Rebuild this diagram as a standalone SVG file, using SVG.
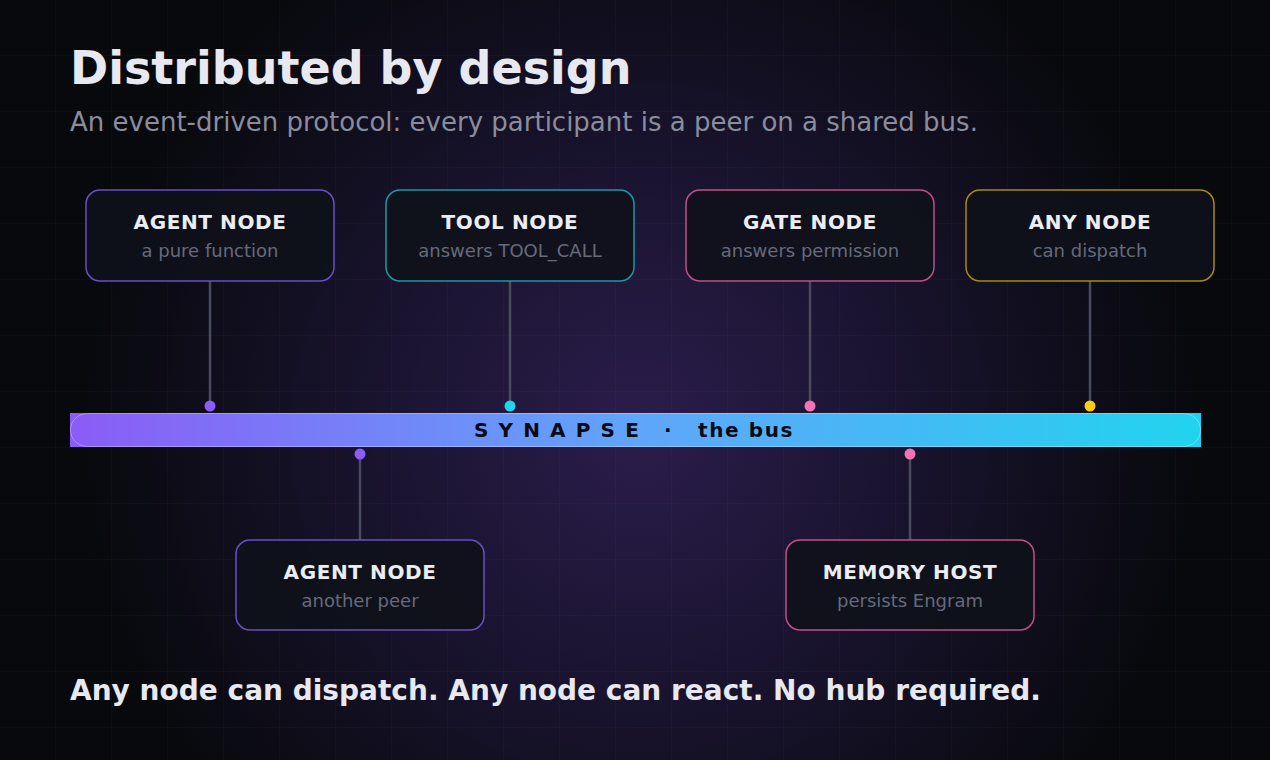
<svg xmlns="http://www.w3.org/2000/svg" width="1270" height="760" viewBox="0 0 1270 760">
  <defs>
    <radialGradient id="glow" cx="640" cy="430" r="560" gradientUnits="userSpaceOnUse">
      <stop offset="0" stop-color="#2b1d4c"/>
      <stop offset="0.45" stop-color="#1a1430"/>
      <stop offset="1" stop-color="#08090d"/>
    </radialGradient>
    <linearGradient id="busGrad" x1="70" y1="0" x2="1201" y2="0" gradientUnits="userSpaceOnUse">
      <stop offset="0" stop-color="#8b5cf6"/>
      <stop offset="0.5" stop-color="#60a5fa"/>
      <stop offset="1" stop-color="#22d3ee"/>
    </linearGradient>
    <pattern id="grid" width="56" height="56" patternUnits="userSpaceOnUse">
      <path d="M56 0 V56 M0 56 H56" fill="none" stroke="#ffffff" stroke-opacity="0.035" stroke-width="1"/>
    </pattern>
    <style>
      .title { font-family: "DejaVu Sans", sans-serif; font-weight: bold; font-size: 46px; fill: #e8e8f0; }
      .subtitle { font-family: "DejaVu Sans", sans-serif; font-size: 26px; fill: #8a8d9e; }
      .footer { font-family: "DejaVu Sans", sans-serif; font-weight: bold; font-size: 28px; fill: #e8e8f0; }
      .box { fill: #0f111a; fill-opacity: 0.92; stroke-width: 1.5; }
      .nlabel { font-family: "DejaVu Sans", sans-serif; font-weight: bold; font-size: 20px; fill: #ececf3; text-anchor: middle; letter-spacing: 0.6px; }
      .nsub { font-family: "DejaVu Sans", sans-serif; font-size: 18px; fill: #666a7b; text-anchor: middle; }
      .stem { stroke: #4a4b5e; stroke-width: 2.5; }
      .purple { stroke: #6a4fc4; }
      .cyan { stroke: #1a98a8; }
      .pink { stroke: #c24d88; }
      .yellow { stroke: #a8890f; }
      .bustext { font-family: "DejaVu Sans", sans-serif; font-weight: bold; font-size: 20px; fill: #0b0b16; letter-spacing: 1.6px; }
    </style>
  </defs>

  <rect width="1270" height="760" fill="url(#glow)"/>
  <rect width="1270" height="760" fill="url(#grid)"/>

  <text class="title" x="70" y="84">Distributed by design</text>
  <text class="subtitle" x="70" y="131">An event-driven protocol: every participant is a peer on a shared bus.</text>

  <g id="connectors">
    <line class="stem" x1="210" y1="281" x2="210" y2="406"/>
    <line class="stem" x1="510" y1="281" x2="510" y2="406"/>
    <line class="stem" x1="810" y1="281" x2="810" y2="406"/>
    <line class="stem" x1="1090" y1="281" x2="1090" y2="406"/>
    <line class="stem" x1="360" y1="454" x2="360" y2="540"/>
    <line class="stem" x1="910" y1="454" x2="910" y2="540"/>
    <circle cx="210" cy="406" r="5.5" fill="#8b5cf6"/>
    <circle cx="510" cy="406" r="5.5" fill="#22d3ee"/>
    <circle cx="810" cy="406" r="5.5" fill="#f472b6"/>
    <circle cx="1090" cy="406" r="5.5" fill="#facc15"/>
    <circle cx="360" cy="454" r="5.5" fill="#8b5cf6"/>
    <circle cx="910" cy="454" r="5.5" fill="#f472b6"/>
  </g>

  <g id="bus">
    <rect x="70" y="413" width="1131" height="34" fill="url(#busGrad)"/>
    <rect x="70.5" y="413.5" width="1130" height="33" rx="17" fill="none" stroke="#ffffff" stroke-opacity="0.3" stroke-width="1"/>
    <text class="bustext" y="437"><tspan x="474">S Y N A P S E</tspan> <tspan x="664">·</tspan> <tspan x="698">the bus</tspan></text>
  </g>

  <g id="node-agent-1">
    <rect class="box purple" x="86" y="190" width="248" height="91" rx="14"/>
    <text class="nlabel" x="210" y="229">AGENT NODE</text>
    <text class="nsub" x="210" y="257">a pure function</text>
  </g>
  <g id="node-tool">
    <rect class="box cyan" x="386" y="190" width="248" height="91" rx="14"/>
    <text class="nlabel" x="510" y="229">TOOL NODE</text>
    <text class="nsub" x="510" y="257">answers TOOL_CALL</text>
  </g>
  <g id="node-gate">
    <rect class="box pink" x="686" y="190" width="248" height="91" rx="14"/>
    <text class="nlabel" x="810" y="229">GATE NODE</text>
    <text class="nsub" x="810" y="257">answers permission</text>
  </g>
  <g id="node-any">
    <rect class="box yellow" x="966" y="190" width="248" height="91" rx="14"/>
    <text class="nlabel" x="1090" y="229">ANY NODE</text>
    <text class="nsub" x="1090" y="257">can dispatch</text>
  </g>
  <g id="node-agent-2">
    <rect class="box purple" x="236" y="540" width="248" height="90" rx="14"/>
    <text class="nlabel" x="360" y="579">AGENT NODE</text>
    <text class="nsub" x="360" y="607">another peer</text>
  </g>
  <g id="node-memory">
    <rect class="box pink" x="786" y="540" width="248" height="90" rx="14"/>
    <text class="nlabel" x="910" y="579">MEMORY HOST</text>
    <text class="nsub" x="910" y="607">persists Engram</text>
  </g>

  <text class="footer" x="70" y="700">Any node can dispatch. Any node can react. No hub required.</text>
</svg>
